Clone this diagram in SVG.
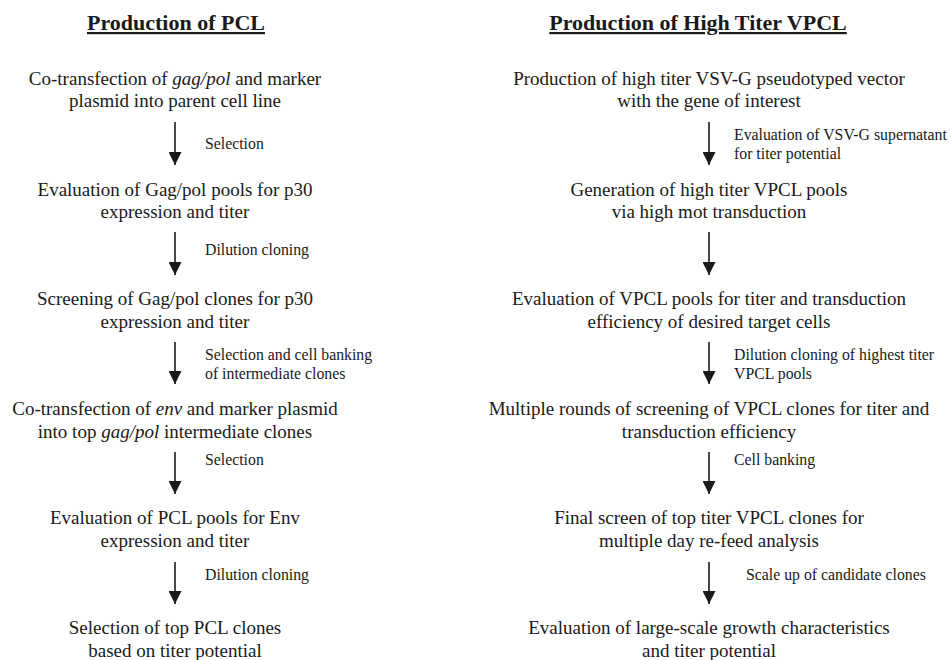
<svg xmlns="http://www.w3.org/2000/svg" width="952" height="660" viewBox="0 0 952 660">
<defs>
<marker id="ah" markerWidth="13" markerHeight="13" viewBox="0 0 13 13" refX="13" refY="6.5" orient="auto" markerUnits="userSpaceOnUse">
<path d="M0,0 L13,6.5 L0,13 Z" fill="#1a1a1a"/>
</marker>
<style>
text{font-family:"Liberation Serif","Times New Roman",serif;fill:#1a1a1a}
.t{font-size:22px;font-weight:bold;text-anchor:middle;text-decoration:underline}
.n{font-size:19px;text-anchor:middle}
.l{font-size:15.8px}
.c line{stroke:#1a1a1a;stroke-width:1.6;marker-end:url(#ah)}
</style>
</defs>
<rect width="952" height="660" fill="#fff"/>
<text class="t" x="176" y="30">Production of PCL</text>
<text class="t" x="698" y="30">Production of High Titer VPCL</text>
<g id="L1"><text class="n" x="175" y="85">Co-transfection of <tspan font-style="italic">gag/pol</tspan> and marker</text><text class="n" x="175" y="107">plasmid into parent cell line</text></g>
<g id="L2"><text class="n" x="175" y="196">Evaluation of Gag/pol pools for p30</text><text class="n" x="175" y="218">expression and titer</text></g>
<g id="L3"><text class="n" x="175" y="305">Screening of Gag/pol clones for p30</text><text class="n" x="175" y="328">expression and titer</text></g>
<g id="L4"><text class="n" x="175" y="415">Co-transfection of <tspan font-style="italic">env</tspan> and marker plasmid</text><text class="n" x="175" y="438">into top <tspan font-style="italic">gag/pol</tspan> intermediate clones</text></g>
<g id="L5"><text class="n" x="175" y="524">Evaluation of PCL pools for Env</text><text class="n" x="175" y="547">expression and titer</text></g>
<g id="L6"><text class="n" x="175" y="634">Selection of top PCL clones</text><text class="n" x="175" y="657">based on titer potential</text></g>
<g id="R1"><text class="n" x="709" y="85">Production of high titer VSV-G pseudotyped vector</text><text class="n" x="709" y="107">with the gene of interest</text></g>
<g id="R2"><text class="n" x="709" y="196">Generation of high titer VPCL pools</text><text class="n" x="709" y="218">via high mot transduction</text></g>
<g id="R3"><text class="n" x="709" y="305">Evaluation of VPCL pools for titer and transduction</text><text class="n" x="709" y="328">efficiency of desired target cells</text></g>
<g id="R4"><text class="n" x="709" y="415">Multiple rounds of screening of VPCL clones for titer and</text><text class="n" x="709" y="438">transduction efficiency</text></g>
<g id="R5"><text class="n" x="709" y="524">Final screen of top titer VPCL clones for</text><text class="n" x="709" y="547">multiple day re-feed analysis</text></g>
<g id="R6"><text class="n" x="709" y="634">Evaluation of large-scale growth characteristics</text><text class="n" x="709" y="657">and titer potential</text></g>
<g id="connectors" class="c">
<line x1="175" y1="122" x2="175" y2="165"/>
<line x1="175" y1="232" x2="175" y2="275"/>
<line x1="175" y1="342" x2="175" y2="384"/>
<line x1="175" y1="452" x2="175" y2="494"/>
<line x1="175" y1="562" x2="175" y2="604"/>
<line x1="709" y1="122" x2="709" y2="165"/>
<line x1="709" y1="232" x2="709" y2="275"/>
<line x1="709" y1="342" x2="709" y2="384"/>
<line x1="709" y1="452" x2="709" y2="494"/>
<line x1="709" y1="562" x2="709" y2="604"/>
<text class="l" x="205" y="149">Selection</text>
<text class="l" x="205" y="255">Dilution cloning</text>
<text class="l" x="205" y="360">Selection and cell banking</text>
<text class="l" x="205" y="379">of intermediate clones</text>
<text class="l" x="205" y="465">Selection</text>
<text class="l" x="205" y="580">Dilution cloning</text>
<text class="l" x="734" y="140">Evaluation of VSV-G supernatant</text>
<text class="l" x="734" y="159">for titer potential</text>
<text class="l" x="734" y="360">Dilution cloning of highest titer</text>
<text class="l" x="734" y="379">VPCL pools</text>
<text class="l" x="734" y="465">Cell banking</text>
<text class="l" x="746" y="580">Scale up of candidate clones</text>
</g>
</svg>
